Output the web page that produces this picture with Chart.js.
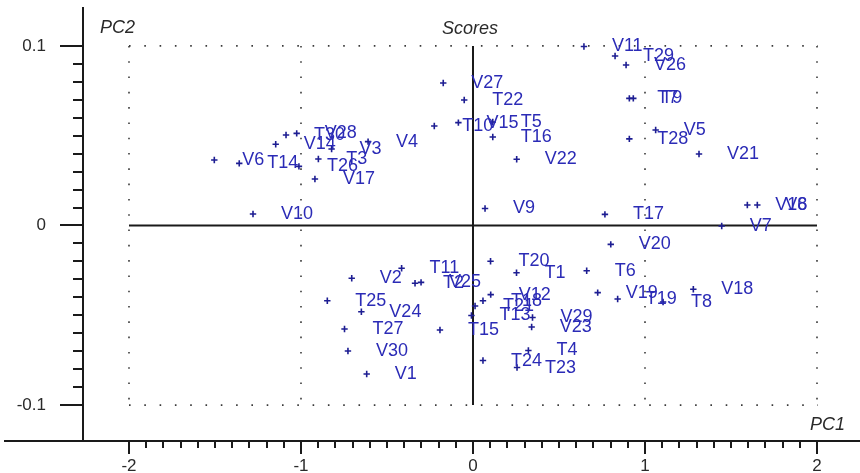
<!DOCTYPE html>
<html>
<head>
<meta charset="utf-8">
<script src="https://cdn.jsdelivr.net/npm/chart.js@4.4.1/dist/chart.umd.min.js"></script>
<style>
  html, body { margin: 0; padding: 0; background: #ffffff; }
  canvas { display: block; }
</style>
</head>
<body>
<canvas id="scores" width="860" height="473"></canvas>
<script>
// Sample names and their principal component scores
const sampleNames = [
  'V6', 'T14', 'V14', 'T30', 'V28', 'V3', 'V4', 'T3', 'T26', 'V17', 'V10',
  'V27', 'T22', 'T10', 'V15', 'T5', 'T16', 'V22', 'V9',
  'V11', 'T29', 'V26', 'T7', 'T9', 'T28', 'V5', 'V21',
  'V16', 'V8', 'V7', 'T17', 'V20', 'T6',
  'V19', 'T19', 'T8', 'V18',
  'T20', 'T1', 'V12', 'T18', 'T21', 'T13', 'T15', 'T24', 'T23', 'T4', 'V29', 'V23',
  'V2', 'T11', 'T2', 'V25', 'T25', 'V24', 'T27', 'V30', 'V1'
];
const pc1Scores = [
  -1.504, -1.359, -1.147, -1.087, -1.025, -0.822, -0.610, -0.899, -1.012, -0.919, -1.279,
  -0.173, -0.051, -0.225, -0.085, 0.115, 0.115, 0.254, 0.070,
  0.645, 0.826, 0.890, 0.909, 0.932, 0.909, 1.062, 1.314,
  1.595, 1.653, 1.446, 0.767, 0.801, 0.661,
  0.725, 0.841, 1.105, 1.281,
  0.102, 0.253, 0.103, 0.058, 0.012, -0.009, -0.192, 0.058, 0.256, 0.322, 0.346, 0.341,
  -0.705, -0.415, -0.337, -0.302, -0.847, -0.649, -0.747, -0.727, -0.618
];
const pc2Scores = [
  0.0365, 0.0346, 0.0452, 0.0504, 0.0513, 0.0426, 0.0467, 0.0370, 0.0329, 0.0259, 0.0064,
  0.0793, 0.0699, 0.0554, 0.0573, 0.0576, 0.0493, 0.0369, 0.0095,
  0.0997, 0.0944, 0.0894, 0.0708, 0.0708, 0.0482, 0.0532, 0.0398,
  0.0114, 0.0114, -0.0003, 0.0062, -0.0105, -0.0252,
  -0.0374, -0.0409, -0.0426, -0.0355,
  -0.0199, -0.0263, -0.0385, -0.0419, -0.0448, -0.0501, -0.0582, -0.0752, -0.0791, -0.0696, -0.0512, -0.0565,
  -0.0294, -0.0238, -0.0322, -0.0317, -0.0419, -0.0480, -0.0576, -0.0699, -0.0827
];

// Axis ticks
const xTickValues = [-2, -1, 0, 1, 2];
const xTickLabels = ['-2', '-1', '0', '1', '2'];
const yTickValues = [-0.1, 0, 0.1];
const yTickLabels = ['-0.1', '0', '0.1'];
const xDottedLines = [-2, -1, 1, 2];
const yDottedLines = [-0.1, 0.1];

const points = pc1Scores.map((x, i) => ({ x: x, y: pc2Scores[i] }));

const AXIS_COLOR = '#1a1a1a';
const LABEL_COLOR = '#2b2bb6';
const MARKER_COLOR = '#1d1d92';
const FONT = '"Liberation Sans", Arial, sans-serif';

// Reference frame: dotted box, solid zero lines, ticks, titles and sample labels
const scorePlotDecor = {
  id: 'scorePlotDecor',
  beforeDatasetsDraw(chart) {
    const { ctx, scales: { x, y } } = chart;
    ctx.save();
    // dotted reference lines
    ctx.strokeStyle = '#3a3a3a';
    ctx.lineWidth = 1.6;
    ctx.setLineDash([1.6, 13.7]);
    yDottedLines.forEach(v => {
      const py = y.getPixelForValue(v);
      ctx.beginPath();
      ctx.moveTo(x.getPixelForValue(-2), py);
      ctx.lineTo(x.getPixelForValue(2) + 1, py);
      ctx.stroke();
    });
    xDottedLines.forEach(v => {
      const px = x.getPixelForValue(v);
      ctx.beginPath();
      ctx.moveTo(px, y.getPixelForValue(0.1));
      ctx.lineTo(px, y.getPixelForValue(-0.1) + 1);
      ctx.stroke();
    });
    ctx.setLineDash([]);
    // solid zero lines
    ctx.strokeStyle = AXIS_COLOR;
    ctx.lineWidth = 2;
    ctx.beginPath();
    ctx.moveTo(x.getPixelForValue(-2), y.getPixelForValue(0));
    ctx.lineTo(x.getPixelForValue(2), y.getPixelForValue(0));
    ctx.moveTo(x.getPixelForValue(0), y.getPixelForValue(0.1));
    ctx.lineTo(x.getPixelForValue(0), y.getPixelForValue(-0.1));
    ctx.stroke();
    ctx.restore();
  },
  afterDatasetsDraw(chart) {
    const { ctx } = chart;
    const meta = chart.getDatasetMeta(0);
    ctx.save();
    ctx.fillStyle = LABEL_COLOR;
    ctx.font = '18px ' + FONT;
    ctx.textAlign = 'left';
    ctx.textBaseline = 'middle';
    meta.data.forEach((el, i) => {
      ctx.fillText(sampleNames[i], el.x + 28, el.y);
    });
    ctx.restore();
  },
  afterDraw(chart) {
    const { ctx, chartArea: area, scales: { x, y } } = chart;
    ctx.save();
    ctx.strokeStyle = AXIS_COLOR;
    ctx.lineWidth = 2;
    ctx.beginPath();
    // y axis ticks: major every 0.1, minor every 0.01
    for (let k = -10; k <= 10; k++) {
      const py = Math.round(y.getPixelForValue(k / 100));
      const len = k % 10 === 0 ? 23 : 10;
      ctx.moveTo(area.left - len, py);
      ctx.lineTo(area.left, py);
    }
    // x axis ticks: major every 1, minor every 0.1
    for (let k = -20; k <= 20; k++) {
      const px = Math.round(x.getPixelForValue(k / 10));
      const len = k % 10 === 0 ? 13 : 7;
      ctx.moveTo(px, area.bottom);
      ctx.lineTo(px, area.bottom + len);
    }
    // x axis line runs on past the y axis
    ctx.moveTo(4, area.bottom);
    ctx.lineTo(area.left, area.bottom);
    ctx.stroke();

    // axis names and plot title
    ctx.fillStyle = '#2a2a2a';
    ctx.font = 'italic 18px ' + FONT;
    ctx.textBaseline = 'middle';
    ctx.textAlign = 'left';
    ctx.fillText('PC2', 100, 28);
    ctx.fillText('Scores', 442, 29);
    ctx.fillText('PC1', 810, 425);
    ctx.restore();
  }
};

new Chart(document.getElementById('scores'), {
  type: 'scatter',
  data: {
    datasets: [{
      data: points,
      pointStyle: 'cross',
      pointRadius: 3.2,
      pointBorderWidth: 1.6,
      pointBorderColor: MARKER_COLOR,
      pointBackgroundColor: MARKER_COLOR
    }]
  },
  options: {
    responsive: false,
    animation: false,
    events: [],
    layout: { autoPadding: false, padding: { top: 8, left: 0, right: 0, bottom: 0 } },
    plugins: { legend: { display: false }, tooltip: { enabled: false } },
    scales: {
      x: {
        type: 'linear',
        min: -2.2674,
        max: 2.25,
        grid: { display: false, drawTicks: false },
        border: { display: true, color: AXIS_COLOR, width: 2 },
        afterBuildTicks: s => { s.ticks = xTickValues.map(v => ({ value: v })); },
        afterFit: s => { s.height = 32; s.paddingLeft = 0; s.paddingRight = 0; },
        ticks: {
          autoSkip: false,
          maxRotation: 0,
          padding: 15,
          color: '#2a2a2a',
          font: { family: FONT, size: 17 },
          callback: (v, i) => xTickLabels[i]
        }
      },
      y: {
        type: 'linear',
        min: -0.12,
        max: 0.1211,
        grid: { display: false, drawTicks: false },
        border: { display: true, color: AXIS_COLOR, width: 2 },
        afterBuildTicks: s => { s.ticks = yTickValues.map(v => ({ value: v })); },
        afterFit: s => { s.width = 83; s.paddingTop = 0; s.paddingBottom = 0; },
        ticks: {
          padding: 37,
          color: '#2a2a2a',
          font: { family: FONT, size: 17 },
          callback: (v, i) => yTickLabels[i]
        }
      }
    }
  },
  plugins: [scorePlotDecor]
});
</script>
</body>
</html>
